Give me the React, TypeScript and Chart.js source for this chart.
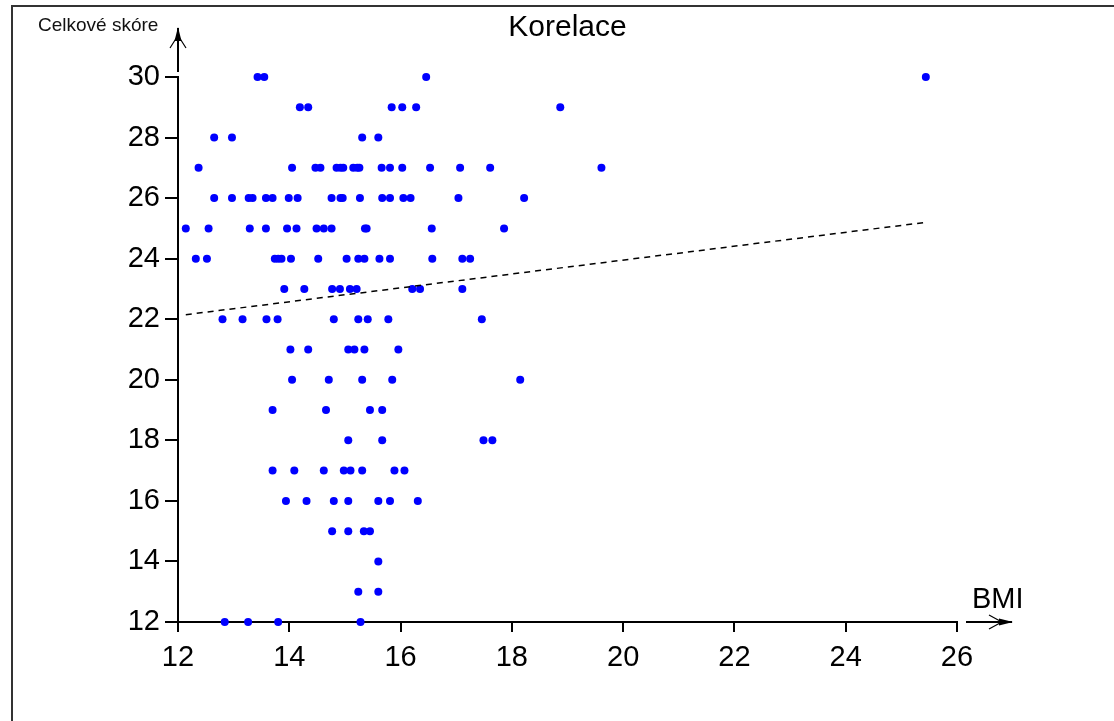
import React, { useEffect, useRef } from 'react';
import { Chart, registerables } from 'chart.js';

Chart.register(...registerables);

const chartTitle = 'Korelace';
const xAxisLabel = 'BMI';
const yAxisLabel = 'Celkové skóre';

const xTicks = [12, 14, 16, 18, 20, 22, 24, 26];
const yTicks = [12, 14, 16, 18, 20, 22, 24, 26, 28, 30];

// paired observations (BMI, total score)
const bmi = [
  13.43, 13.55, 16.46, 25.44,
  14.19, 14.34, 15.84, 16.03, 16.28, 18.87,
  12.65, 12.97, 15.31, 15.6,
  12.37, 14.05, 14.47, 14.56, 14.85, 14.92, 14.97, 15.15, 15.22, 15.26, 15.66, 15.81, 16.03, 16.53, 17.07, 17.61, 19.61,
  12.65, 12.97, 13.27, 13.34, 13.58, 13.7, 13.99, 14.15, 14.76, 14.92, 14.96, 15.27, 15.67, 15.81, 16.05, 16.18, 17.04, 18.22,
  12.14, 12.55, 13.29, 13.58, 13.96, 14.13, 14.49, 14.62, 14.76, 15.36, 15.39, 16.56, 17.86,
  12.32, 12.52, 13.74, 13.8, 13.86, 14.03, 14.52, 15.03, 15.24, 15.35, 15.62, 15.81, 16.57, 17.11, 17.25,
  13.91, 14.27, 14.77, 14.91, 15.09, 15.21, 16.21, 16.35, 17.11,
  12.8, 13.16, 13.59, 13.79, 14.8, 15.24, 15.41, 15.78, 17.46,
  14.02, 14.34, 15.06, 15.17, 15.35, 15.96,
  14.05, 14.71, 15.31, 15.85, 18.15,
  13.7, 14.66, 15.45, 15.67,
  15.06, 15.67, 17.49, 17.65,
  13.7, 14.09, 14.62, 14.98, 15.1, 15.31, 15.89, 16.07,
  13.94, 14.31, 14.8, 15.06, 15.6, 15.81, 16.31,
  14.77, 15.06, 15.34, 15.45,
  15.6,
  15.24, 15.6,
  12.84, 13.26, 13.8, 15.28,
];
const score = [
  30, 30, 30, 30,
  29, 29, 29, 29, 29, 29,
  28, 28, 28, 28,
  27, 27, 27, 27, 27, 27, 27, 27, 27, 27, 27, 27, 27, 27, 27, 27, 27,
  26, 26, 26, 26, 26, 26, 26, 26, 26, 26, 26, 26, 26, 26, 26, 26, 26, 26,
  25, 25, 25, 25, 25, 25, 25, 25, 25, 25, 25, 25, 25,
  24, 24, 24, 24, 24, 24, 24, 24, 24, 24, 24, 24, 24, 24, 24,
  23, 23, 23, 23, 23, 23, 23, 23, 23,
  22, 22, 22, 22, 22, 22, 22, 22, 22,
  21, 21, 21, 21, 21, 21,
  20, 20, 20, 20, 20,
  19, 19, 19, 19,
  18, 18, 18, 18,
  17, 17, 17, 17, 17, 17, 17, 17,
  16, 16, 16, 16, 16, 16, 16,
  15, 15, 15, 15,
  14,
  13, 13,
  12, 12, 12, 12,
];

// regression line end points
const trendX = [12.14, 25.44];
const trendY = [22.15, 25.2];

const FONT = '"Liberation Sans", Arial, sans-serif';

const decorPlugin = {
  id: 'decor',
  afterDraw(chart: any) {
    const { ctx, chartArea } = chart;
    const { left, right, top, bottom } = chartArea;
    ctx.save();
    // frame
    ctx.strokeStyle = '#333';
    ctx.lineWidth = 2;
    ctx.beginPath();
    ctx.moveTo(12, 721);
    ctx.lineTo(12, 6);
    ctx.lineTo(1114, 6);
    ctx.stroke();

    ctx.strokeStyle = '#000';
    ctx.fillStyle = '#000';
    // y arrow
    ctx.lineWidth = 2;
    ctx.beginPath();
    ctx.moveTo(left, top - 5);
    ctx.lineTo(left, top - 49);
    ctx.stroke();
    ctx.beginPath();
    ctx.moveTo(left - 3.5, top - 36);
    ctx.lineTo(left, top - 50);
    ctx.lineTo(left + 3.5, top - 36);
    ctx.closePath();
    ctx.fill();
    ctx.lineWidth = 1.2;
    ctx.beginPath();
    ctx.moveTo(left - 8, top - 29);
    ctx.lineTo(left - 1, top - 40);
    ctx.moveTo(left + 8, top - 29);
    ctx.lineTo(left + 1, top - 40);
    ctx.stroke();
    // x arrow
    ctx.lineWidth = 2;
    ctx.beginPath();
    ctx.moveTo(right + 9, bottom);
    ctx.lineTo(right + 55, bottom);
    ctx.stroke();
    ctx.beginPath();
    ctx.moveTo(right + 42, bottom - 3.5);
    ctx.lineTo(right + 56, bottom);
    ctx.lineTo(right + 42, bottom + 3.5);
    ctx.closePath();
    ctx.fill();
    ctx.lineWidth = 1.2;
    ctx.beginPath();
    ctx.moveTo(right + 32, bottom - 7);
    ctx.lineTo(right + 43, bottom - 1);
    ctx.moveTo(right + 32, bottom + 7);
    ctx.lineTo(right + 43, bottom + 1);
    ctx.stroke();

    // texts
    ctx.fillStyle = '#000';
    ctx.textBaseline = 'alphabetic';
    ctx.textAlign = 'center';
    ctx.font = `30px ${FONT}`;
    ctx.fillText(chartTitle, (left + right) / 2, 36);
    ctx.textAlign = 'left';
    ctx.font = `19px ${FONT}`;
    ctx.fillStyle = '#111';
    ctx.fillText(yAxisLabel, 38, 31);
    ctx.fillStyle = '#000';
    ctx.font = `29px ${FONT}`;
    ctx.fillText(xAxisLabel, right + 15, bottom - 14);
    ctx.restore();
  },
};

export default function App() {
  const canvasRef = useRef<HTMLCanvasElement | null>(null);

  useEffect(() => {
    const canvas = canvasRef.current;
    if (!canvas) return;
    const points = bmi.map((x, i) => ({ x, y: score[i] }));
    const trend = trendX.map((x, i) => ({ x, y: trendY[i] }));
    const chart = new Chart(canvas, {
      type: 'scatter',
      data: {
        datasets: [
          {
            type: 'line',
            data: trend,
            borderColor: '#000',
            borderWidth: 1.5,
            borderDash: [6, 5],
            pointRadius: 0,
            fill: false,
            clip: false,
          } as any,
          {
            data: points,
            backgroundColor: '#0000ff',
            borderColor: '#0000ff',
            pointRadius: 4,
            borderWidth: 0,
            clip: false,
          } as any,
        ],
      },
      options: {
        animation: false,
        responsive: false,
        maintainAspectRatio: false,
        layout: { padding: { left: 0, top: 77, right: 157, bottom: 0 } },
        plugins: {
          legend: { display: false },
          tooltip: { enabled: false },
          title: { display: false },
        },
        scales: {
          x: {
            type: 'linear',
            min: 12,
            max: 26,
            afterBuildTicks: (scale: any) => {
              scale.ticks = xTicks.map((v) => ({ value: v }));
            },
            afterFit: (scale: any) => {
              scale.height = 99;
            },
            border: { display: true, color: '#000', width: 2 },
            grid: {
              display: true,
              drawOnChartArea: false,
              drawTicks: true,
              tickLength: 10,
              color: '#000',
              lineWidth: 2,
            },
            ticks: {
              color: '#000',
              font: { family: FONT, size: 29 },
              padding: 9,
              maxRotation: 0,
              autoSkip: false,
            },
          },
          y: {
            type: 'linear',
            min: 12,
            max: 30,
            afterBuildTicks: (scale: any) => {
              scale.ticks = yTicks.map((v) => ({ value: v }));
            },
            afterFit: (scale: any) => {
              scale.width = 178;
            },
            border: { display: true, color: '#000', width: 2 },
            grid: {
              display: true,
              drawOnChartArea: false,
              drawTicks: true,
              tickLength: 13,
              color: '#000',
              lineWidth: 2,
            },
            ticks: {
              color: '#000',
              font: { family: FONT, size: 29 },
              padding: 5,
              autoSkip: false,
            },
          },
        },
      },
      plugins: [decorPlugin],
    });
    return () => chart.destroy();
  }, []);

  return (
    <div style={{ position: 'absolute', left: 0, top: 0, width: 1114, height: 721, background: '#fff' }}>
      <canvas ref={canvasRef} width={1114} height={721} style={{ display: 'block' }} />
    </div>
  );
}
